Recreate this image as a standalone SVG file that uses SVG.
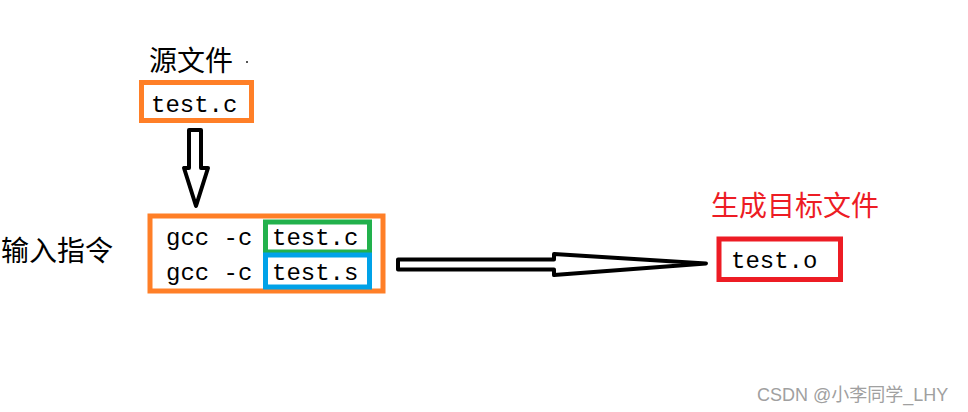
<svg xmlns="http://www.w3.org/2000/svg" width="968" height="412" viewBox="0 0 968 412">
<style>
.cjk{font-family:"Noto Sans CJK SC","Noto Sans CJK JP",sans-serif;font-size:28px;fill:#000}
.mono{font-family:"Liberation Mono","DejaVu Sans Mono",monospace;font-size:24px;fill:#000}
.box{fill:none;stroke-width:5}
.arrow{fill:#fff;stroke:#000;stroke-width:4;stroke-linejoin:round}
</style>
<rect width="968" height="412" fill="#fff"/>
<g id="source">
<text class="cjk" x="149" y="71">源文件</text>
<rect x="246" y="61" width="2" height="2" fill="#555"/>
<rect class="box" x="141.5" y="82.5" width="110" height="38" stroke="#ff7f27"/>
<text class="mono" x="151" y="112">test.c</text>
</g>
<g id="commands">
<text class="cjk" x="1" y="261">输入指令</text>
<rect class="box" x="150" y="216" width="233" height="75" stroke="#ff7f27"/>
<rect class="box" x="265.5" y="222" width="104" height="30" stroke="#22b14c" stroke-width="4.5"/>
<rect class="box" x="265.5" y="255" width="104" height="32" stroke="#00a2e8" stroke-width="4.5"/>
<text class="mono" x="166" y="245">gcc -c</text>
<text class="mono" x="272" y="245">test.c</text>
<text class="mono" x="166" y="280">gcc -c</text>
<text class="mono" x="272" y="280">test.s</text>
</g>
<g id="target">
<text class="cjk" x="711" y="216" style="fill:#ed1c24">生成目标文件</text>
<rect class="box" x="719" y="239" width="121.5" height="40.5" stroke="#ed1c24" stroke-width="5.5"/>
<text class="mono" x="731" y="268">test.o</text>
</g>
<g id="connectors">
<polygon class="arrow" points="189,130 201,130 201,168 208,168 196,206 184,168 189,168"/>
<polygon class="arrow" points="398,259.5 554,259.5 554,254 706,263.5 554,275 554,269.5 398,269.5"/>
</g>
<text x="757" y="401" style="font-family:'Liberation Sans','Noto Sans CJK SC',sans-serif;font-size:18px;fill:#a0a0a0">CSDN @小李同学_LHY</text>
</svg>
